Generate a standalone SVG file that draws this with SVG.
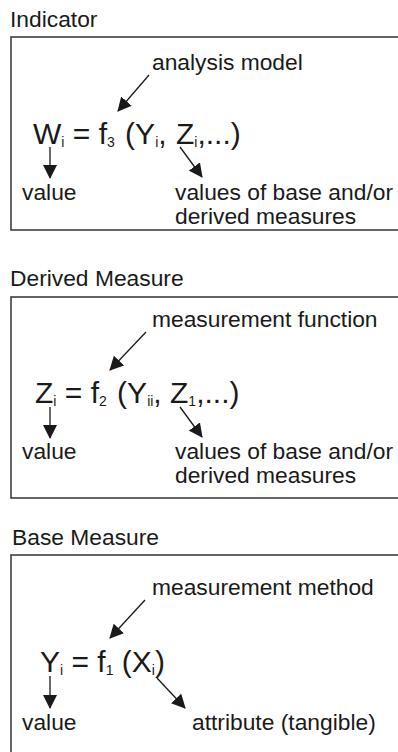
<svg xmlns="http://www.w3.org/2000/svg" width="398" height="752" viewBox="0 0 398 752">
<style>
  text { font-family: "Liberation Sans", Arial, sans-serif; fill: #1a1a1a; }
  .lbl { font-size: 22.8px; }
  .eq { font-size: 30px; }
  .sub { font-size: 14px; }
  .box { fill: #ffffff; stroke: #333333; stroke-width: 1.5; }
  .arr { stroke: #1a1a1a; stroke-width: 1.3; fill: none; marker-end: url(#ah); }
</style>
<defs>
  <marker id="ah" markerUnits="userSpaceOnUse" markerWidth="14" markerHeight="14" viewBox="0 0 14 14" refX="13" refY="7" orient="auto">
    <path d="M0,0 L14,7 L0,14 Z" fill="#1a1a1a"/>
  </marker>
</defs>
<rect width="398" height="752" fill="#ffffff"/>

<g id="indicator">
  <text class="lbl" x="10" y="27">Indicator</text>
  <rect class="box" x="11" y="37" width="400" height="193"/>
  <text class="lbl" x="152" y="70">analysis model</text>
  <text class="eq" x="33" y="144">W<tspan class="sub" dy="3">i</tspan><tspan dy="-3"> = f</tspan><tspan class="sub" dy="3">3</tspan><tspan dy="-3" dx="2"> (Y</tspan><tspan class="sub" dy="3">i</tspan><tspan dy="-3">, </tspan><tspan dx="1">Z</tspan><tspan class="sub" dy="3">i</tspan><tspan dy="-3">,...)</tspan></text>
  <text class="lbl" x="22" y="200">value</text>
  <text class="lbl" x="175" y="200">values of base and/or</text>
  <text class="lbl" x="175" y="224">derived measures</text>
</g>

<g id="derived-measure">
  <text class="lbl" x="10" y="286">Derived Measure</text>
  <rect class="box" x="11" y="297" width="400" height="201"/>
  <text class="lbl" x="152" y="327">measurement function</text>
  <text class="eq" x="35" y="403">Z<tspan class="sub" dy="3">i</tspan><tspan dy="-3"> = f</tspan><tspan class="sub" dy="3">2</tspan><tspan dy="-3" dx="2"> (Y</tspan><tspan class="sub" dy="3">ii</tspan><tspan dy="-3">, </tspan><tspan>Z</tspan><tspan class="sub" dy="3">1</tspan><tspan dy="-3">,...)</tspan></text>
  <text class="lbl" x="22" y="459">value</text>
  <text class="lbl" x="175" y="459">values of base and/or</text>
  <text class="lbl" x="175" y="483">derived measures</text>
</g>

<g id="base-measure">
  <text class="lbl" x="12" y="545">Base Measure</text>
  <rect class="box" x="11" y="555" width="400" height="220"/>
  <text class="lbl" x="152" y="595">measurement method</text>
  <text class="eq" x="40" y="672">Y<tspan class="sub" dy="3">i</tspan><tspan dy="-3"> = f</tspan><tspan class="sub" dy="3">1</tspan><tspan dy="-3"> (X</tspan><tspan class="sub" dy="3">i</tspan><tspan dy="-3">)</tspan></text>
  <text class="lbl" x="22" y="730">value</text>
  <text class="lbl" x="192" y="730">attribute (tangible)</text>
</g>

<g id="connectors">
  <line class="arr" x1="149" y1="75" x2="118" y2="111"/>
  <line class="arr" x1="50" y1="147" x2="50" y2="178"/>
  <line class="arr" x1="180" y1="147" x2="202" y2="177"/>

  <line class="arr" x1="146" y1="332" x2="110" y2="370"/>
  <line class="arr" x1="50" y1="407" x2="50" y2="438"/>
  <line class="arr" x1="180" y1="407" x2="202" y2="437"/>

  <line class="arr" x1="145" y1="600" x2="110" y2="638"/>
  <line class="arr" x1="50" y1="676" x2="50" y2="708"/>
  <line class="arr" x1="157" y1="678" x2="185" y2="708"/>
</g>
</svg>
